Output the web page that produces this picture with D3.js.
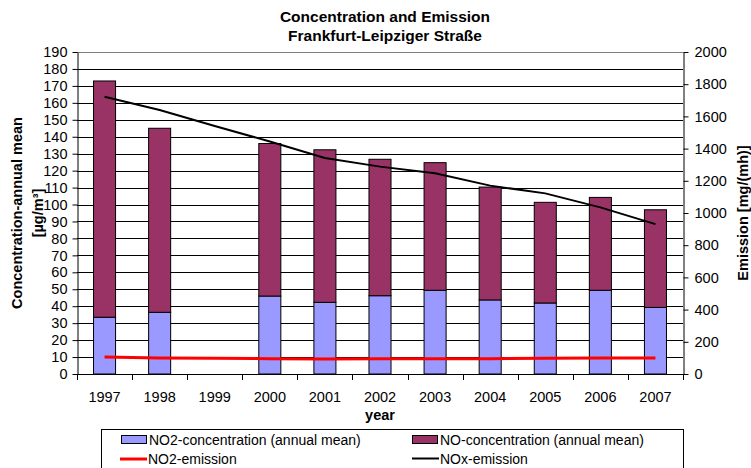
<!DOCTYPE html>
<html>
<head>
<meta charset="utf-8">
<script src="https://cdn.jsdelivr.net/npm/d3@7"></script>
<style>
  html, body { margin: 0; padding: 0; background: #fff; }
  svg { display: block; font-family: "Liberation Sans", Arial, sans-serif; }
  svg text { font-family: "Liberation Sans", Arial, sans-serif; fill: #000; }
</style>
</head>
<body>
<svg id="chart" width="751" height="468"></svg>
<script>
// Years on the category axis
const years = ["1997", "1998", "1999", "2000", "2001", "2002", "2003", "2004", "2005", "2006", "2007"];
// Annual mean concentrations [µg/m³] (null = no measurement)
const no2Conc = [33.5, 36.4, null, 46.0, 42.3, 46.2, 49.4, 43.7, 41.9, 49.4, 39.3];
const noConc  = [139.4, 108.6, null, 90.0, 90.0, 80.5, 75.3, 66.6, 59.4, 54.8, 57.6];
// Emissions [mg/(mh)]
const no2Emission = [105, 100, 98, 95, 93, 94, 95, 95, 98, 99, 100];
const noxEmission = [1722, 1640, 1540, 1444, 1342, 1288, 1247, 1170, 1122, 1035, 931];
// Axis ticks
const leftTicks = d3.range(0, 191, 10);
const rightTicks = d3.range(0, 2001, 200);

const svg = d3.select("#chart");
const m = { left: 77, right: 683, top: 52, bottom: 374 };

const x = d3.scaleBand().domain(years).range([m.left, m.right]).paddingInner(0.6).paddingOuter(0.3);
const xc = d => x(d) + x.bandwidth() / 2;
const yL = d3.scaleLinear().domain([0, 190]).range([m.bottom, m.top]);
const yR = d3.scaleLinear().domain([0, 2000]).range([m.bottom, m.top]);

// Gridlines
svg.append("g").selectAll("line").data(leftTicks.slice(1)).join("line")
  .attr("x1", m.left).attr("x2", m.right)
  .attr("y1", d => Math.round(yL(d)) + 0.5).attr("y2", d => Math.round(yL(d)) + 0.5)
  .attr("stroke", d => d === 190 ? "#808080" : "#000").attr("stroke-width", 1);

// Stacked bars
const stackRows = years.map((yr, i) => ({ year: yr, no2: no2Conc[i], no: noConc[i] }))
  .filter(r => r.no2 !== null);
const series = d3.stack().keys(["no2", "no"])(stackRows);
const colors = { no2: "#9999FF", no: "#993366" };
svg.append("g").selectAll("g").data(series).join("g")
  .attr("fill", s => colors[s.key])
  .selectAll("rect").data(s => s).join("rect")
  .attr("x", d => x(d.data.year))
  .attr("width", x.bandwidth())
  .attr("y", d => yL(d[1]))
  .attr("height", d => yL(d[0]) - yL(d[1]))
  .attr("stroke", "#000").attr("stroke-width", 1);

// Emission lines on the secondary axis
const line = d3.line().x((d, i) => xc(years[i])).y(d => yR(d));
svg.append("path").datum(no2Emission).attr("d", line)
  .attr("fill", "none").attr("stroke", "#FF0000").attr("stroke-width", 3);
svg.append("path").datum(noxEmission).attr("d", line)
  .attr("fill", "none").attr("stroke", "#000").attr("stroke-width", 2);

// Left axis
const axL = svg.append("g").attr("transform", `translate(${m.left + 0.5},0)`)
  .call(d3.axisLeft(yL).tickValues(leftTicks).tickSize(5).tickSizeOuter(0).tickPadding(5));
// Right axis
const axR = svg.append("g").attr("transform", `translate(${m.right + 0.5},0)`)
  .call(d3.axisRight(yR).tickValues(rightTicks).tickFormat(d3.format("d")).tickSize(5).tickSizeOuter(0).tickPadding(6));
// Bottom axis: ticks between categories
const axB = svg.append("g").attr("transform", `translate(0,${m.bottom + 0.5})`)
  .call(d3.axisBottom(x).tickSize(0).tickPadding(17));
const step = x.step();
svg.append("g").selectAll("line").data(d3.range(years.length + 1)).join("line")
  .attr("x1", i => Math.round(m.left + i * step) + 0.5).attr("x2", i => Math.round(m.left + i * step) + 0.5)
  .attr("y1", m.bottom).attr("y2", m.bottom + 6)
  .attr("stroke", "#000");
[axL, axR, axB].forEach(a => {
  a.attr("font-family", null);
  a.selectAll("text").attr("font-size", 14.5);
  a.selectAll("line, path").attr("stroke", "#000");
});
axB.select(".domain").attr("d", `M${m.left},0H${m.right + 0.5}`);

// Titles
const title = svg.append("text").attr("text-anchor", "middle")
  .attr("font-weight", "bold").attr("font-size", 15.5);
title.append("tspan").attr("x", 385).attr("y", 22).text("Concentration and Emission");
title.append("tspan").attr("x", 385).attr("y", 41).text("Frankfurt-Leipziger Straße");

svg.append("text").attr("x", 380).attr("y", 420).attr("text-anchor", "middle")
  .attr("font-weight", "bold").attr("font-size", 14.5).text("year");

const yl = svg.append("text").attr("transform", "translate(0,213) rotate(-90)")
  .attr("text-anchor", "middle").attr("font-weight", "bold").attr("font-size", 14.5);
yl.append("tspan").attr("x", 0).attr("y", 22).text("Concentration-annual mean");
yl.append("tspan").attr("x", 0).attr("y", 43).text("[µg/m³]");

svg.append("text").attr("transform", "translate(748,213) rotate(-90)")
  .attr("text-anchor", "middle").attr("font-weight", "bold").attr("font-size", 14.5)
  .text("Emission [mg/(mh)]");

// Legend
const lg = svg.append("g");
lg.append("rect").attr("x", 101.5).attr("y", 429.5).attr("width", 582).attr("height", 50)
  .attr("fill", "#fff").attr("stroke", "#000");
const legendItems = [
  { label: "NO2-concentration (annual mean)", type: "rect", color: colors.no2, lx: 121, ly: 440 },
  { label: "NO-concentration (annual mean)", type: "rect", color: colors.no, lx: 412, ly: 440 },
  { label: "NO2-emission", type: "line", color: "#FF0000", w: 3, lx: 120, ly: 459 },
  { label: "NOx-emission", type: "line", color: "#000", w: 2, lx: 412, ly: 458.5 }
];
legendItems.forEach(it => {
  if (it.type === "rect") {
    lg.append("rect").attr("x", it.lx + 0.5).attr("y", it.ly - 4.5).attr("width", 25).attr("height", 8)
      .attr("fill", it.color).attr("stroke", "#000");
  } else {
    lg.append("line").attr("x1", it.lx).attr("x2", it.lx + 27).attr("y1", it.ly).attr("y2", it.ly)
      .attr("stroke", it.color).attr("stroke-width", it.w);
  }
  lg.append("text").attr("x", it.lx + 28).attr("y", it.ly + 5).attr("font-size", 14).text(it.label);
});
</script>
</body>
</html>
